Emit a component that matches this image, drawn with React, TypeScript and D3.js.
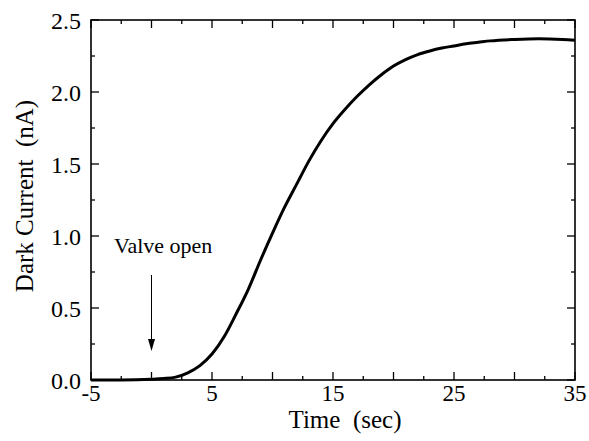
import React, { useRef, useEffect } from "react";
import * as d3 from "d3";

// time (sec) and dark current (nA)
const times = [-5, -2.5, 0, 1, 2, 3, 4, 5, 6, 7, 8, 9, 10, 11, 12, 13, 14, 15, 16, 17, 18, 19, 20, 21, 22, 23, 24, 25, 26, 27, 28, 30, 32, 34, 35];
const current = [0.0, 0.0, 0.005, 0.01, 0.02, 0.05, 0.1, 0.18, 0.3, 0.46, 0.63, 0.83, 1.02, 1.2, 1.36, 1.52, 1.66, 1.78, 1.88, 1.97, 2.05, 2.12, 2.18, 2.225, 2.26, 2.285, 2.305, 2.32, 2.335, 2.345, 2.355, 2.365, 2.37, 2.365, 2.36];

const xTickLabels = [-5, 5, 15, 25, 35];
const yTickLabels = [0, 0.5, 1.0, 1.5, 2.0, 2.5];

const App = () => {
  const ref = useRef<SVGSVGElement>(null);

  useEffect(() => {
    const width = 589;
    const height = 441;
    const m = { left: 91, right: 14, top: 20, bottom: 61 };
    const font = "'Liberation Serif', 'Times New Roman', serif";

    const svg = d3.select(ref.current);
    svg.selectAll("*").remove();
    svg
      .attr("width", width)
      .attr("height", height)
      .style("position", "absolute")
      .style("left", "0px")
      .style("top", "0px")
      .style("background", "#fff");

    const x = d3.scaleLinear().domain([-5, 35]).range([m.left, width - m.right]);
    const y = d3.scaleLinear().domain([0, 2.5]).range([height - m.bottom, m.top]);

    const g = svg.append("g");

    // frame
    g.append("rect")
      .attr("x", x(-5))
      .attr("y", y(2.5))
      .attr("width", x(35) - x(-5))
      .attr("height", y(0) - y(2.5))
      .attr("fill", "none")
      .attr("stroke", "#000")
      .attr("stroke-width", 1.6);

    // inward ticks on all four sides
    const xMajor = d3.range(-5, 35.01, 5);
    const xMinor = d3.range(-2.5, 35, 5);
    const yMajor = d3.range(0, 2.51, 0.5);
    const yMinor = d3.range(0.25, 2.5, 0.5);
    const ticks = g.append("g").attr("stroke", "#000").attr("stroke-width", 1.3);
    [[xMajor, 8], [xMinor, 4]].forEach(([vals, len]: any) => {
      vals.forEach((v: number) => {
        ticks.append("line").attr("x1", x(v)).attr("x2", x(v)).attr("y1", y(0)).attr("y2", y(0) - len);
        ticks.append("line").attr("x1", x(v)).attr("x2", x(v)).attr("y1", y(2.5)).attr("y2", y(2.5) + len);
      });
    });
    [[yMajor, 8], [yMinor, 4]].forEach(([vals, len]: any) => {
      vals.forEach((v: number) => {
        ticks.append("line").attr("x1", x(-5)).attr("x2", x(-5) + len).attr("y1", y(v)).attr("y2", y(v));
        ticks.append("line").attr("x1", x(35)).attr("x2", x(35) - len).attr("y1", y(v)).attr("y2", y(v));
      });
    });

    // tick labels
    g.selectAll(".xl")
      .data(xTickLabels)
      .join("text")
      .attr("x", (d) => x(d))
      .attr("y", y(0) + 21)
      .attr("text-anchor", "middle")
      .style("font-family", font)
      .style("font-size", "23px")
      .text((d) => String(d));

    g.selectAll(".yl")
      .data(yTickLabels)
      .join("text")
      .attr("x", x(-5) - 10)
      .attr("y", (d) => y(d) + 9)
      .attr("text-anchor", "end")
      .style("font-family", font)
      .style("font-size", "24px")
      .text((d) => d.toFixed(1));

    // axis titles
    g.append("text")
      .attr("x", 345)
      .attr("y", 428)
      .attr("text-anchor", "middle")
      .style("font-family", font)
      .style("font-size", "25px")
      .style("white-space", "pre")
      .text("Time  (sec)");

    g.append("text")
      .attr("transform", `translate(33,196) rotate(-90)`)
      .attr("text-anchor", "middle")
      .style("font-family", font)
      .style("font-size", "25px")
      .style("white-space", "pre")
      .text("Dark Current  (nA)");

    // curve
    const line = d3
      .line<number>()
      .x((d, i) => x(times[i]))
      .y((d) => y(d))
      .curve(d3.curveMonotoneX);

    g.append("path")
      .datum(current)
      .attr("d", line)
      .attr("fill", "none")
      .attr("stroke", "#000")
      .attr("stroke-width", 3);

    // annotation
    g.append("text")
      .attr("x", 114)
      .attr("y", 253)
      .style("font-family", font)
      .style("font-size", "22px")
      .text("Valve open");

    g.append("line")
      .attr("x1", x(0))
      .attr("x2", x(0))
      .attr("y1", 275)
      .attr("y2", 342)
      .attr("stroke", "#000")
      .attr("stroke-width", 1);
    g.append("path")
      .attr("d", `M${x(0) - 3.5},${339} L${x(0)},${351} L${x(0) + 3.5},${339} Z`)
      .attr("fill", "#000");
  }, []);

  return <svg ref={ref} />;
};

export default App;
